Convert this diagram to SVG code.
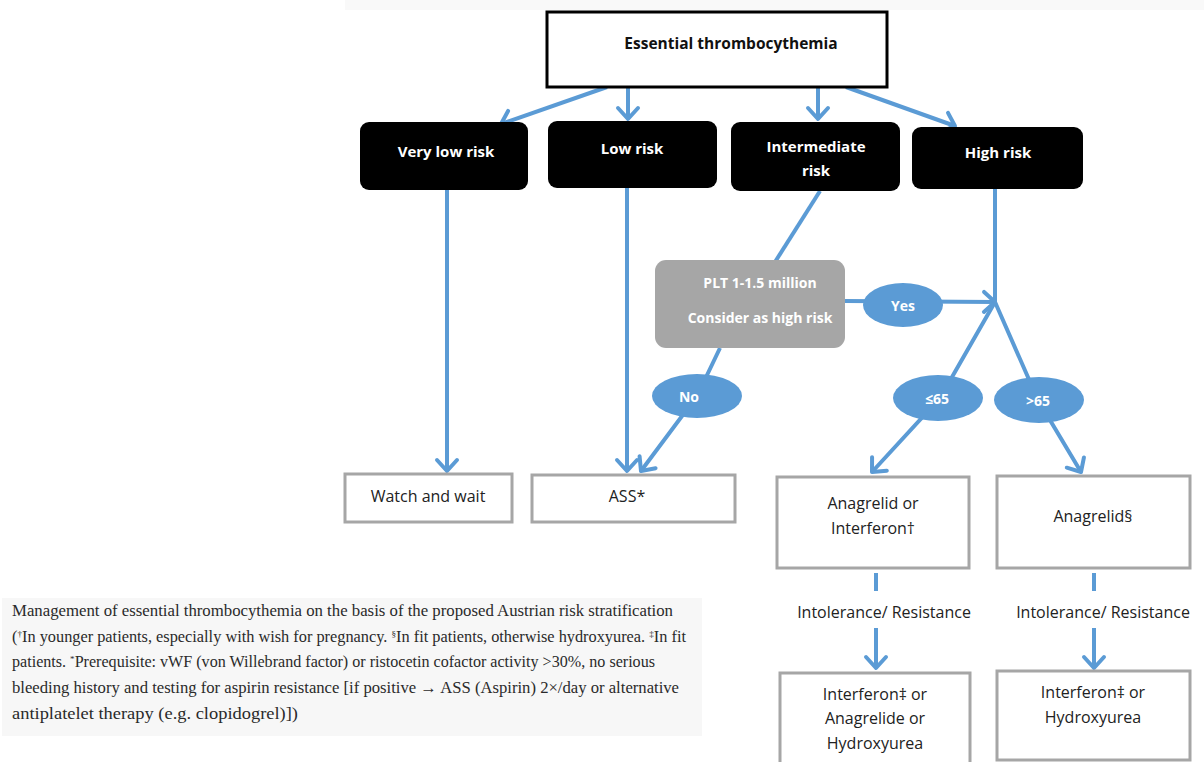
<svg xmlns="http://www.w3.org/2000/svg" width="1204" height="762" viewBox="0 0 1204 762">
<style>
.t{font-family:"Open Sans","Noto Sans",sans-serif;text-anchor:middle;}
.w{fill:#ffffff;font-weight:bold;font-size:15px;}
.wb{fill:#ffffff;font-weight:bold;font-size:14px;}
.d{fill:#222222;font-size:16px;}
.risk{fill:#000000;}
.out{fill:#ffffff;stroke:#a6a6a6;stroke-width:3;}
.ell{fill:#5b9bd5;}
.c{stroke:#5b9bd5;stroke-width:4;fill:none;}
.cap{font-family:"Liberation Serif","DejaVu Serif",serif;font-size:16px;fill:#2a2a2a;}
</style>
<defs>
<marker id="ah" markerUnits="userSpaceOnUse" markerWidth="30" markerHeight="30" viewBox="-15 -15 30 30" refX="0" refY="0" orient="auto">
<path d="M-11,-10 L0,0 L-11,10" fill="none" stroke="#5b9bd5" stroke-width="4" stroke-linecap="round" stroke-linejoin="round"/>
</marker>
</defs>
<rect x="345" y="0" width="859" height="10" fill="#f9f9f9"/>
<rect x="2" y="598" width="700" height="138" fill="#f7f7f7"/>

<g id="connectors">
<line class="c" x1="607" y1="87" x2="501" y2="124" stroke-width="5" marker-end="url(#ah)"/>
<line class="c" x1="628" y1="87" x2="628" y2="119" marker-end="url(#ah)"/>
<line class="c" x1="818" y1="87" x2="818" y2="119" marker-end="url(#ah)"/>
<line class="c" x1="846" y1="87" x2="955" y2="126" stroke-width="5" marker-end="url(#ah)"/>
<line class="c" x1="447" y1="190" x2="447" y2="471" marker-end="url(#ah)"/>
<line class="c" x1="627" y1="188" x2="627" y2="471" marker-end="url(#ah)"/>
<line class="c" x1="820" y1="191" x2="775" y2="262"/>
<polyline class="c" points="720,348 697,396 641,471" marker-end="url(#ah)"/>
<line class="c" x1="845" y1="301" x2="995" y2="302" marker-end="url(#ah)"/>
<line class="c" x1="995" y1="189" x2="995" y2="302"/>
<polyline class="c" points="995,302 940,398 872,472" marker-end="url(#ah)"/>
<polyline class="c" points="995,302 1038,400 1081,472" marker-end="url(#ah)"/>
<line class="c" x1="876" y1="573" x2="876" y2="591" stroke-width="5"/>
<line class="c" x1="876" y1="628" x2="876" y2="668" marker-end="url(#ah)"/>
<line class="c" x1="1094" y1="573" x2="1094" y2="591" stroke-width="5"/>
<line class="c" x1="1094" y1="628" x2="1094" y2="668" marker-end="url(#ah)"/>
</g>

<g id="title">
<rect x="547" y="12" width="340" height="75" fill="#ffffff" stroke="#000000" stroke-width="3"/>
<text class="t" x="731" y="49" font-size="15.5" font-weight="bold" fill="#111">Essential thrombocythemia</text>
</g>
<g id="verylow">
<rect class="risk" x="360" y="122" width="168" height="68" rx="9"/>
<text class="t w" x="446" y="157">Very low risk</text>
</g>
<g id="low">
<rect class="risk" x="548" y="121" width="169" height="67" rx="9"/>
<text class="t w" x="632" y="154">Low risk</text>
</g>
<g id="intermediate">
<rect class="risk" x="731" y="122" width="169" height="69" rx="9"/>
<text class="t w" x="816" y="152">Intermediate</text>
<text class="t w" x="816" y="176">risk</text>
</g>
<g id="high">
<rect class="risk" x="912" y="127" width="171" height="62" rx="9"/>
<text class="t w" x="998" y="158">High risk</text>
</g>
<g id="plt">
<rect x="655" y="260" width="190" height="88" rx="11" fill="#a6a6a6"/>
<text class="t wb" x="760" y="288">PLT  1-1.5 million</text>
<text class="t wb" x="760" y="323">Consider as high risk</text>
</g>
<g id="yes">
<ellipse class="ell" cx="903" cy="305" rx="40" ry="22"/>
<text class="t wb" x="903" y="311">Yes</text>
</g>
<g id="no">
<ellipse class="ell" cx="697" cy="396" rx="45" ry="22"/>
<text class="t wb" x="689" y="402">No</text>
</g>
<g id="le65">
<ellipse class="ell" cx="938" cy="398" rx="45" ry="23"/>
<text class="t wb" x="937" y="404">≤65</text>
</g>
<g id="gt65">
<ellipse class="ell" cx="1039" cy="400" rx="45" ry="23"/>
<text class="t wb" x="1038" y="406">&gt;65</text>
</g>
<g id="watch">
<rect class="out" x="345" y="474" width="167" height="48"/>
<text class="t d" x="428" y="502">Watch and wait</text>
</g>
<g id="ass">
<rect class="out" x="532" y="475" width="203" height="47"/>
<text class="t d" x="627" y="502">ASS*</text>
</g>
<g id="anaint">
<rect class="out" x="777" y="477" width="192" height="91"/>
<text class="t d" x="873" y="509">Anagrelid or</text>
<text class="t d" x="873" y="534">Interferon†</text>
</g>
<g id="ana">
<rect class="out" x="997" y="476" width="193" height="92"/>
<text class="t d" x="1093" y="522">Anagrelid§</text>
</g>
<text class="t d" x="884" y="618">Intolerance/ Resistance</text>
<text class="t d" x="1103" y="618">Intolerance/ Resistance</text>
<g id="second1">
<rect class="out" x="780" y="673" width="190" height="95"/>
<text class="t d" x="875" y="700">Interferon‡ or</text>
<text class="t d" x="875" y="724">Anagrelide or</text>
<text class="t d" x="875" y="749">Hydroxyurea</text>
</g>
<g id="second2">
<rect class="out" x="997" y="671" width="193" height="89"/>
<text class="t d" x="1093" y="698">Interferon‡ or</text>
<text class="t d" x="1093" y="723">Hydroxyurea</text>
</g>

<g id="caption">
<text class="cap" x="12" y="616" textLength="661" lengthAdjust="spacingAndGlyphs">Management of essential thrombocythemia on the basis of the proposed Austrian risk stratification</text>
<text class="cap" x="12" y="642" textLength="674" lengthAdjust="spacingAndGlyphs">(<tspan font-size="9" baseline-shift="super">†</tspan>In younger patients, especially with wish for pregnancy. <tspan font-size="9" baseline-shift="super">§</tspan>In fit patients, otherwise hydroxyurea. <tspan font-size="9" baseline-shift="super">‡</tspan>In fit</text>
<text class="cap" x="12" y="667" textLength="643" lengthAdjust="spacingAndGlyphs">patients. <tspan font-size="9" baseline-shift="super">*</tspan>Prerequisite: vWF (von Willebrand factor) or ristocetin cofactor activity &gt;30%, no serious</text>
<text class="cap" x="12" y="693" textLength="667" lengthAdjust="spacingAndGlyphs">bleeding history and testing for aspirin resistance [if positive → ASS (Aspirin) 2×/day or alternative</text>
<text class="cap" x="12" y="719" textLength="286" lengthAdjust="spacingAndGlyphs">antiplatelet therapy (e.g. clopidogrel)])</text>
</g>
</svg>
